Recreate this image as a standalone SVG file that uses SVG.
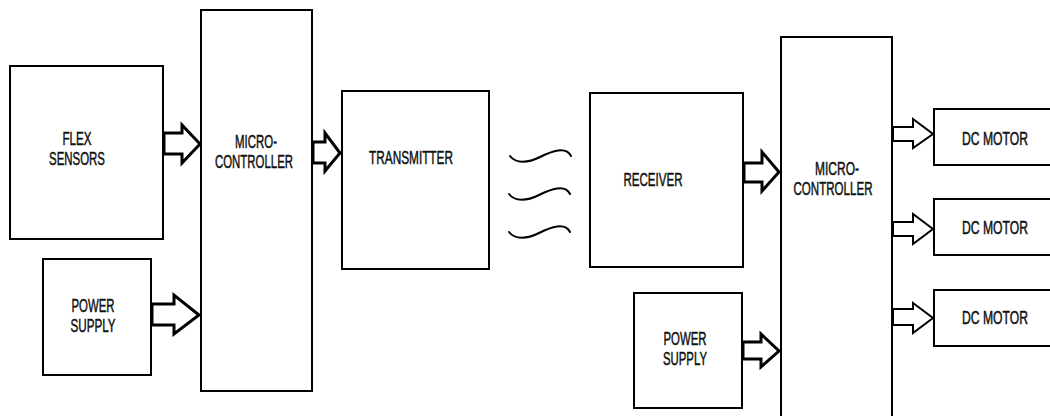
<svg xmlns="http://www.w3.org/2000/svg" width="1050" height="416" viewBox="0 0 1050 416">
<style>
.box{fill:#fff;stroke:#000;stroke-width:2}
.t{font-family:"Liberation Sans",Arial,sans-serif;font-size:19px;fill:#111;stroke:#111;stroke-width:0.5;text-anchor:middle}
.arr{fill:#fff;stroke:#000;stroke-width:3;stroke-linejoin:miter}
.arr2{fill:#fff;stroke:#000;stroke-width:2;stroke-linejoin:miter}
.wave{fill:none;stroke:#000;stroke-width:2;stroke-linecap:round}
</style>
<rect width="1050" height="416" fill="#fff"/>
<g id="flex-sensors"><rect class="box" x="10" y="66" width="153" height="173"/>
<text class="t" x="77" y="145" textLength="29" lengthAdjust="spacingAndGlyphs">FLEX</text>
<text class="t" x="77" y="165" textLength="56" lengthAdjust="spacingAndGlyphs">SENSORS</text></g>
<g id="power-supply-1"><rect class="box" x="43" y="259" width="108" height="116"/>
<text class="t" x="93" y="312" textLength="43" lengthAdjust="spacingAndGlyphs">POWER</text>
<text class="t" x="93" y="332" textLength="45" lengthAdjust="spacingAndGlyphs">SUPPLY</text></g>
<g id="microcontroller-1"><rect class="box" x="201" y="10" width="111" height="381"/>
<text class="t" x="256" y="148" textLength="42" lengthAdjust="spacingAndGlyphs">MICRO-</text>
<text class="t" x="254" y="168" textLength="78" lengthAdjust="spacingAndGlyphs">CONTROLLER</text></g>
<g id="transmitter"><rect class="box" x="342" y="91" width="147" height="178"/>
<text class="t" x="411" y="164" textLength="84" lengthAdjust="spacingAndGlyphs">TRANSMITTER</text></g>
<g id="receiver"><rect class="box" x="590" y="93" width="153" height="174"/>
<text class="t" x="653" y="186" textLength="59" lengthAdjust="spacingAndGlyphs">RECEIVER</text></g>
<g id="power-supply-2"><rect class="box" x="634" y="293" width="108" height="115"/>
<text class="t" x="685" y="345" textLength="43" lengthAdjust="spacingAndGlyphs">POWER</text>
<text class="t" x="685" y="365" textLength="44" lengthAdjust="spacingAndGlyphs">SUPPLY</text></g>
<g id="microcontroller-2"><rect class="box" x="781" y="37" width="111" height="390"/>
<text class="t" x="837" y="175" textLength="44" lengthAdjust="spacingAndGlyphs">MICRO-</text>
<text class="t" x="833" y="195" textLength="79" lengthAdjust="spacingAndGlyphs">CONTROLLER</text></g>
<g id="dc-motor-1"><rect class="box" x="934" y="109" width="120" height="56"/>
<text class="t" x="995" y="145" textLength="66" lengthAdjust="spacingAndGlyphs">DC MOTOR</text></g>
<g id="dc-motor-2"><rect class="box" x="934" y="199" width="120" height="56"/>
<text class="t" x="995" y="234" textLength="66" lengthAdjust="spacingAndGlyphs">DC MOTOR</text></g>
<g id="dc-motor-3"><rect class="box" x="934" y="290" width="120" height="56"/>
<text class="t" x="995" y="324" textLength="66" lengthAdjust="spacingAndGlyphs">DC MOTOR</text></g>
<g id="connectors">
<polygon class="arr" points="164,133 182,133 182,125 200,144 182,163 182,154 164,154"/>
<polygon class="arr" points="152,304 174,304 174,295 199,315 174,334 174,325 152,325"/>
<polygon class="arr" points="313,142 325,142 325,133 340,153 325,171 325,163 313,163"/>
<polygon class="arr" points="744,163 762,163 762,152 779,172 762,191 762,182 744,182"/>
<polygon class="arr" points="743,342 761,342 761,334 779,351 761,367 761,359 743,359"/>
<polygon class="arr2" points="893,127 913,127 913,119 933,134 913,148 913,141 893,141"/>
<polygon class="arr2" points="893,222 913,222 913,214 933,229 913,244 913,236 893,236"/>
<polygon class="arr2" points="893,309 913,309 913,303 933,318 913,333 913,325 893,325"/>
<path class="wave" d="M510,156 C516,164 528,163 540,157 C552,151 566,146 571,156"/>
<path class="wave" d="M509,194 C515,202 527,201 539,195 C551,189 565,184 570,194"/>
<path class="wave" d="M509,232 C515,240 527,239 539,233 C551,227 565,222 570,232"/>
</g>
</svg>
